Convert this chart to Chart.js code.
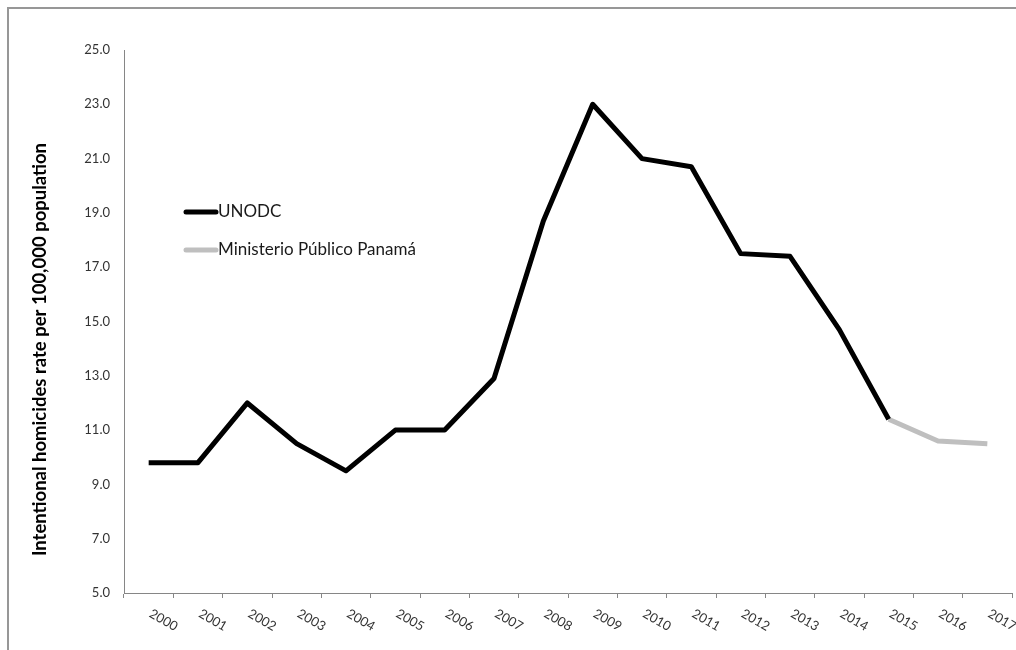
<!DOCTYPE html>
<html>
<head>
<meta charset="utf-8">
<script src="https://cdn.jsdelivr.net/npm/chart.js"></script>
<style>
  body { margin: 0; background: #fff; }
  #wrap { position: relative; width: 1016px; height: 650px; overflow: hidden; }
  #frame { position: absolute; left: 7px; top: 7px; width: 1100px; height: 700px;
           border-top: 2px solid #979797; border-left: 2px solid #979797; }
  canvas { position: absolute; left: 0; top: 0; }
</style>
</head>
<body>
<div id="wrap">
  <div id="frame"></div>
  <canvas id="homicides" width="1016" height="650"></canvas>
</div>
<script>
var years = ["2000", "2001", "2002", "2003", "2004", "2005", "2006", "2007", "2008",
  "2009", "2010", "2011", "2012", "2013", "2014", "2015", "2016", "2017"];
var unodc = [9.8, 9.8, 12.0, 10.5, 9.5, 11.0, 11.0, 12.9, 18.7, 23.0, 21.0, 20.7,
  17.5, 17.4, 14.7, 11.4, null, null];
var ministerio = [null, null, null, null, null, null, null, null, null, null, null, null,
  null, null, null, 11.4, 10.6, 10.5];
var yMin = 5, yMax = 25, yStep = 2;
var yTitle = 'Intentional homicides rate per 100,000 population';

// year labels slanted downwards, like the spreadsheet original
var slantedYears = {
  id: 'slantedYears',
  afterDraw: function(chart) {
    var ctx = chart.ctx, x = chart.scales.x;
    ctx.save();
    ctx.font = '13px Lato';
    ctx.fillStyle = '#333333';
    ctx.textAlign = 'left';
    ctx.textBaseline = 'top';
    x.ticks.forEach(function(t, i) {
      ctx.save();
      ctx.translate(x.getPixelForTick(i) + 5, x.top + 14);
      ctx.rotate(Math.PI / 6);
      ctx.fillText(x.getLabelForValue(t.value), 0, 0);
      ctx.restore();
    });
    ctx.restore();
  }
};

// y title sits a bit below the middle of the plot in the original
var sideTitle = {
  id: 'sideTitle',
  afterDraw: function(chart) {
    var ctx = chart.ctx, area = chart.chartArea;
    ctx.save();
    ctx.font = 'bold 18.5px Lato';
    ctx.fillStyle = '#000000';
    ctx.textAlign = 'center';
    ctx.textBaseline = 'middle';
    ctx.translate(40, (area.top + area.bottom) / 2 + 28);
    ctx.rotate(-Math.PI / 2);
    ctx.fillText(yTitle, 0, 0);
    ctx.restore();
  }
};

// legend sits inside the plot, upper left
var insideLegend = {
  id: 'insideLegend',
  afterDraw: function(chart) {
    var ctx = chart.ctx, area = chart.chartArea;
    ctx.save();
    ctx.font = '17px Lato';
    ctx.textBaseline = 'middle';
    ctx.textAlign = 'left';
    chart.data.datasets.forEach(function(ds, i) {
      var x = area.left + 62, y = area.top + 162 + i * 38;
      ctx.strokeStyle = ds.borderColor;
      ctx.lineWidth = ds.borderWidth;
      ctx.lineCap = 'round';
      ctx.beginPath();
      ctx.moveTo(x, y);
      ctx.lineTo(x + 30, y);
      ctx.stroke();
      ctx.fillStyle = '#1a1a1a';
      ctx.fillText(ds.label, x + 32, y);
    });
    ctx.restore();
  }
};

var ctx = document.getElementById('homicides').getContext('2d');
var chart = new Chart(ctx, {
  type: 'line',
  data: {
    labels: years,
    datasets: [{
      label: 'UNODC',
      data: unodc,
      borderColor: '#000000',
      borderWidth: 5,
      borderJoinStyle: 'round',
      pointRadius: 0,
      tension: 0
    }, {
      label: 'Ministerio Público Panamá',
      data: ministerio,
      borderColor: '#bfbfbf',
      borderWidth: 5,
      borderJoinStyle: 'round',
      pointRadius: 0,
      tension: 0
    }]
  },
  options: {
    responsive: false,
    animation: false,
    layout: { padding: { left: 0, top: 50, right: 4, bottom: 0 } },
    plugins: {
      legend: { display: false },
      tooltip: { enabled: false }
    },
    scales: {
      x: {
        type: 'category',
        offset: true,
        afterFit: function(s) { s.height = 57; },
        grid: { offset: true, drawOnChartArea: false, tickLength: 5, color: '#868686' },
        border: { color: '#868686', width: 1 },
        ticks: { display: false }
      },
      y: {
        min: yMin,
        max: yMax,
        afterFit: function(s) { s.width = 124; },
        grid: { display: false, drawTicks: false },
        border: { color: '#868686', width: 1 },
        ticks: {
          stepSize: yStep,
          padding: 14,
          color: '#333333',
          font: { family: 'Lato', size: 13 },
          callback: function(v) { return v.toFixed(1); }
        }
      }
    }
  },
  plugins: [slantedYears, sideTitle, insideLegend]
});
</script>
</body>
</html>
